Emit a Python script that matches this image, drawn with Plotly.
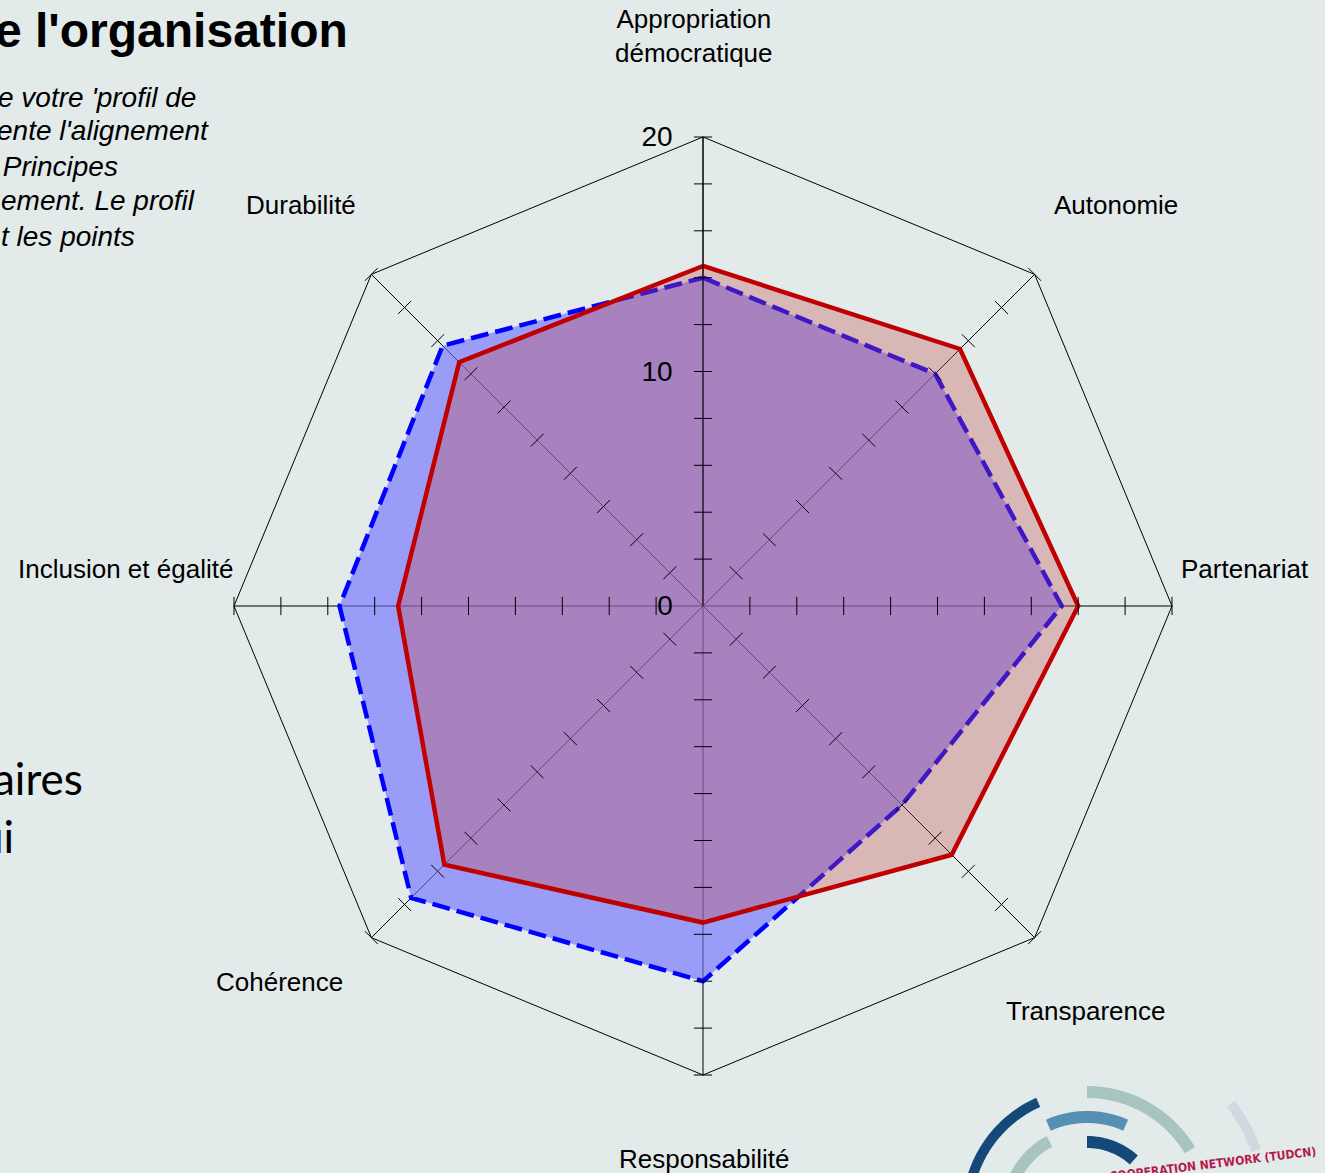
import math
import plotly.graph_objects as go

# ---------------- data ----------------
categories = [
    "Appropriation démocratique",
    "Autonomie",
    "Partenariat",
    "Transparence",
    "Responsabilité",
    "Cohérence",
    "Inclusion et égalité",
    "Durabilité",
]
label_text = [
    "Appropriation<br>démocratique",
    "Autonomie",
    "Partenariat",
    "Transparence",
    "Responsabilité",
    "Cohérence",
    "Inclusion et égalité",
    "Durabilité",
]
profile_red = [14.5, 15.5, 16.0, 15.0, 13.5, 15.6, 13.0, 14.7]
profile_blue = [14.0, 14.0, 15.3, 12.0, 16.0, 17.6, 15.5, 15.7]
radial_tick_vals = [0, 10, 20]
minor_tick_vals = [2, 4, 6, 8, 10, 12, 14, 16, 18, 20]

W, H = 1325, 1173
BG = "#e2eaea"

# ---------------- layout helpers ----------------
def px(x):
    return x / W

def py(y):
    return 1 - y / H

cx, cy, R = 703, 606, 469

fig = go.Figure()

def closed(vals):
    return list(vals) + [vals[0]]

theta_closed = closed(categories)

fig.add_trace(go.Scatterpolar(
    r=closed(profile_blue), theta=theta_closed, mode="lines",
    fill="toself", fillcolor="rgba(110,110,255,0.62)",
    line=dict(color="#0000ff", width=4.5, dash="18px,7px"),
    hoverinfo="skip", showlegend=False,
))
fig.add_trace(go.Scatterpolar(
    r=closed(profile_red), theta=theta_closed, mode="lines",
    fill="toself", fillcolor="rgba(197,76,76,0.32)",
    line=dict(color="#c00000", width=4.5),
    hoverinfo="skip", showlegend=False,
))

# small tick marks on every spoke
tr, tt, ta = [], [], []
for k, c in enumerate(categories):
    for v in minor_tick_vals:
        tr.append(v)
        tt.append(c)
        ta.append(45 * k)
fig.add_trace(go.Scatterpolar(
    r=tr, theta=tt, mode="markers",
    marker=dict(symbol="line-ew", size=13, angle=ta,
                line=dict(color="black", width=1)),
    cliponaxis=False, hoverinfo="skip", showlegend=False,
))

annotations = []
label_pos = [(694, 36), (1116, 205), (1245, 569), (1085, 1011),
             (704, 1159), (279, 982), (125, 569), (301, 205)]
for txt, (x, y) in zip(label_text, label_pos):
    annotations.append(dict(
        x=px(x), y=py(y), xref="paper", yref="paper", text=txt,
        showarrow=False, xanchor="center", yanchor="middle",
        font=dict(family="Liberation Sans, Arial", size=26, color="black"),
    ))

# slide background text (partially cut off)
annotations.append(dict(
    x=px(350), y=py(31), xref="paper", yref="paper", text="<b>e l'organisation</b>",
    showarrow=False, xanchor="right", yanchor="middle",
    font=dict(family="Liberation Sans, Arial", size=48, color="black"),
))
italic_lines = [("e votre 'profil de", 198, 97), ("ente l'alignement", 211, 131),
                (" Principes", 120, 166), ("ement. Le profil", 197, 201),
                ("t les points", 137, 236)]
for t, x, y in italic_lines:
    annotations.append(dict(
        x=px(x), y=py(y), xref="paper", yref="paper", text="<i>%s</i>" % t,
        showarrow=False, xanchor="right", yanchor="middle",
        font=dict(family="Liberation Sans, Arial", size=28, color="black"),
    ))
for t, x, y in [("aires", 85, 778), ("ui", 16, 836)]:
    annotations.append(dict(
        x=px(x), y=py(y), xref="paper", yref="paper", text=t,
        showarrow=False, xanchor="right", yanchor="middle",
        font=dict(family="Lato, Open Sans", size=44, color="black"),
    ))
annotations.append(dict(
    x=px(1319), y=py(1164), xref="paper", yref="paper",
    text="<b>COOPERATION NETWORK (TUDCN)</b>",
    showarrow=False, xanchor="right", yanchor="middle", textangle=-7,
    font=dict(family="DejaVu Sans Condensed, DejaVu Sans", size=12, color="#b51a4a"),
))

# logo arcs
def arc_path(acx, acy, r_in, r_out, a0, a1, n=40):
    pts = []
    for i in range(n + 1):
        a = math.radians(a0 + (a1 - a0) * i / n)
        pts.append((acx + r_out * math.sin(a), acy - r_out * math.cos(a)))
    for i in range(n, -1, -1):
        a = math.radians(a0 + (a1 - a0) * i / n)
        pts.append((acx + r_in * math.sin(a), acy - r_in * math.cos(a)))
    d = "M " + " L ".join("%.5f,%.5f" % (px(x), py(y)) for x, y in pts) + " Z"
    return d

lcx, lcy = 1087, 1212
logo_arcs = [
    (115, 125, -85, -24, "#14497a"),
    (114, 126, 0, 59, "#a8c4c0"),
    (175, 185, 53, 70, "#d0d9df"),
    (89, 101, -24, 24, "#5590b2"),
    (74, 86, -90, -28, "#a8c4c0"),
    (64, 76, 0, 42, "#14497a"),
]
shapes = []
for ri, ro, a0, a1, col in logo_arcs:
    shapes.append(dict(type="path", xref="paper", yref="paper",
                       path=arc_path(lcx, lcy, ri, ro, a0, a1),
                       fillcolor=col, line=dict(width=0), layer="below"))

fig.update_layout(
    width=W, height=H,
    margin=dict(l=0, r=0, t=0, b=0),
    paper_bgcolor=BG, plot_bgcolor=BG,
    showlegend=False,
    annotations=annotations,
    shapes=shapes,
    polar=dict(
        domain=dict(x=[px(cx - R), px(cx + R)], y=[py(cy + R), py(cy - R)]),
        bgcolor="rgba(0,0,0,0)",
        gridshape="linear",
        angularaxis=dict(
            rotation=90, direction="clockwise",
            showline=True, linecolor="black", linewidth=1,
            showgrid=True, gridcolor="black", gridwidth=1,
            showticklabels=False, ticks="", layer="above traces",
        ),
        radialaxis=dict(
            range=[0, 20], angle=90, side="counterclockwise",
            showline=True, linecolor="black", linewidth=1,
            showgrid=False, ticks="outside", ticklen=20, tickcolor="rgba(0,0,0,0)",
            layer="above traces",
            tickvals=radial_tick_vals, ticktext=[str(v) for v in radial_tick_vals],
            tickangle=90,
            tickfont=dict(family="Liberation Sans, Arial", size=28, color="black"),
        ),
    ),
)

fig.write_html("out.html", config={"displayModeBar": False},
               post_script="document.body.style.margin='0';")
